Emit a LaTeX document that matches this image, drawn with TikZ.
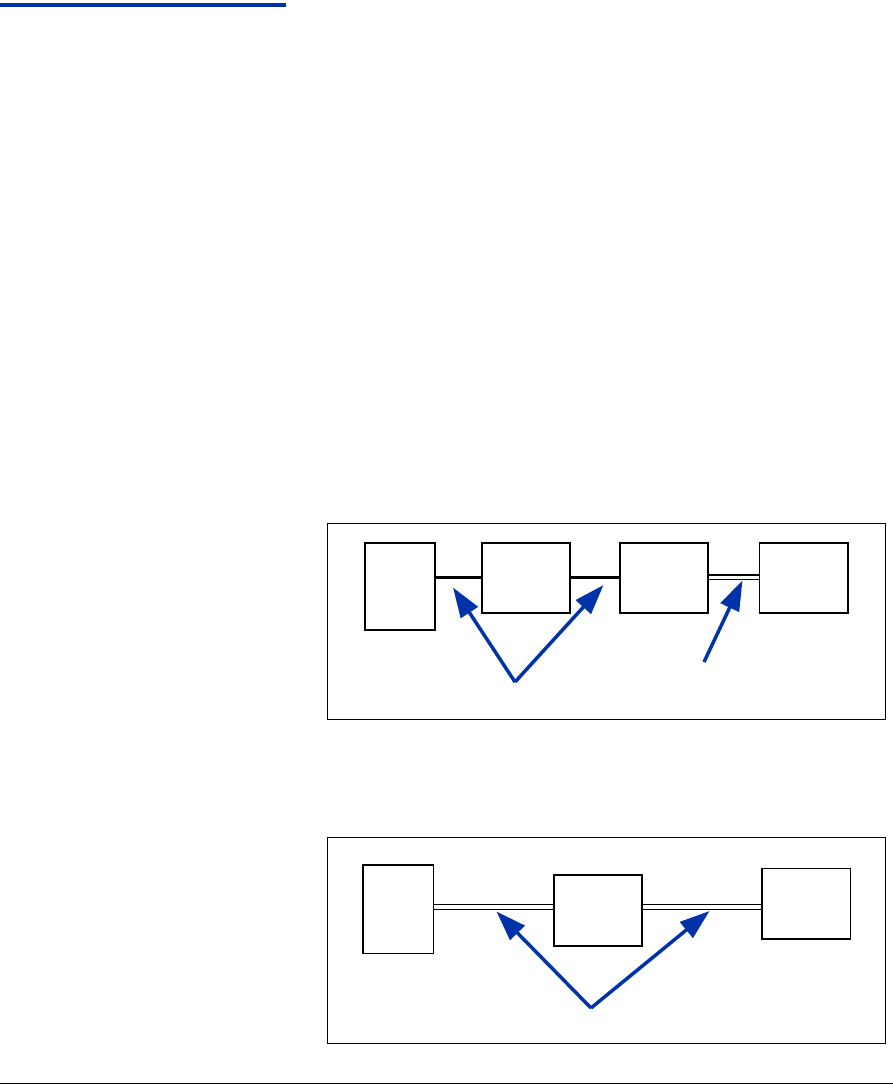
\documentclass[tikz,border=0pt]{standalone}
\usetikzlibrary{arrows.meta}

\definecolor{barblue}{RGB}{0,51,170}

\tikzset{
    unit/.style={draw=black, line width=1.8pt, inner sep=0pt, fill=white},
    panel/.style={draw=black, line width=1pt},
    heavylink/.style={draw=black, line width=3.5pt},
    dbllink/.style={draw=black, double=white, line width=1.5pt, double distance=2.8pt},
    widelink/.style={draw=black, double=white, line width=1.7pt, double distance=3.2pt},
    pointer/.style={draw=barblue, line width=3.5pt, -{Triangle[length=30pt,width=20pt]}}
}

\begin{document}
\begin{tikzpicture}[x=1pt, y=-1pt]

    \useasboundingbox (0,0) rectangle (893,1085);

    % Heading bar and footer rule
    \fill[barblue] (0,3) rectangle (286,7);
    \draw[line width=1pt] (0,1083.5) -- (893,1083.5);

    % Upper panel - four units in a chain
    \begin{scope}
        \draw[panel] (327.5,523.5) rectangle (885.5,719);
        \node[unit, minimum width=70.2pt, minimum height=87.2pt] (a1) at (400,586.4) {};
        \node[unit, minimum width=88.2pt, minimum height=70.2pt] (b1) at (526,577.7) {};
        \node[unit, minimum width=88.2pt, minimum height=70.2pt] (c1) at (664,577.7) {};
        \node[unit, minimum width=88.2pt, minimum height=70.2pt] (d1) at (803.5,577.7) {};
        % Links between the units
        \draw[heavylink] (b1.west |- 0,577.3) -- (a1.east |- 0,577.3);
        \draw[heavylink] (b1.east |- 0,577.3) -- (c1.west |- 0,577.3);
        \draw[dbllink] (c1.east |- 0,577.2) -- (d1.west |- 0,577.2);
        % Pointers onto the links
        \coordinate (v1) at (515,682);
        \coordinate (t1) at (453,587.5);
        \coordinate (t2) at (603.5,585);
        \coordinate (s3) at (704,662);
        \coordinate (t3) at (742.5,580.5);
        \draw[pointer] (v1) -- (t1);
        \draw[pointer] (v1) -- (t2);
        \draw[pointer] (s3) -- (t3);
    \end{scope}

    % Lower panel - three units
    \begin{scope}
        \draw[panel] (327,837.5) rectangle (885,1043);
        \node[unit, minimum width=70.2pt, minimum height=88.2pt] (a2) at (398.3,909.3) {};
        \node[unit, minimum width=88.2pt, minimum height=70.7pt] (b2) at (597.7,910.7) {};
        \node[unit, minimum width=88.2pt, minimum height=70.7pt] (c2) at (806.3,903.8) {};
        % Links between the units
        \coordinate (lvl) at (0,907);
        \draw[widelink] (a2.east |- lvl) -- (b2.west |- lvl);
        \draw[widelink] (b2.east |- lvl) -- (c2.west |- lvl);
        % Pointers onto the links
        \coordinate (v2) at (591,1008);
        \coordinate (u1) at (496.5,911.5);
        \coordinate (u2) at (709.5,911);
        \draw[pointer] (v2) -- (u1);
        \draw[pointer] (v2) -- (u2);
    \end{scope}

\end{tikzpicture}
\end{document}
